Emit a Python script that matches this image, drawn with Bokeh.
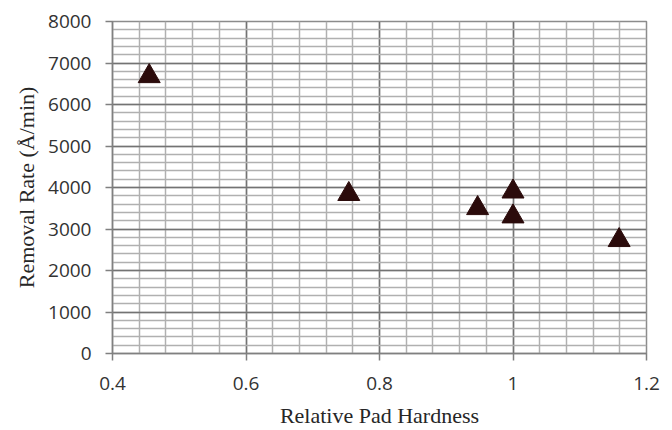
from bokeh.plotting import figure
from bokeh.models import Range1d, FixedTicker, NumeralTickFormatter
from bokeh.embed import file_html
from bokeh.resources import INLINE
import numpy as np

# data
hardness = [0.455, 0.754, 0.947, 1.0, 1.0, 1.159]
removal_rate = [6680, 3840, 3500, 3900, 3300, 2730]

x_ticks = [0.4, 0.6, 0.8, 1.0, 1.2]
y_ticks = [0, 1000, 2000, 3000, 4000, 5000, 6000, 7000, 8000]
x_minor = [round(v, 2) for v in np.arange(0.4, 1.2001, 0.04)]
y_minor = list(range(0, 8001, 200))

x_title = "Relative Pad Hardness"
y_title = "Removal Rate (Å/min)"

p = figure(width=672, height=430, output_backend="svg", toolbar_location=None,
           x_range=Range1d(0.4, 1.2), y_range=Range1d(0, 8000),
           min_border_left=112, min_border_right=26, min_border_top=21,
           min_border_bottom=76)

p.background_fill_color = "white"
p.border_fill_color = "white"
p.outline_line_color = "#8c8c8c"
p.outline_line_width = 1.5

p.xaxis.ticker = FixedTicker(ticks=x_ticks, minor_ticks=x_minor)
p.yaxis.ticker = FixedTicker(ticks=y_ticks, minor_ticks=y_minor)
p.xaxis.formatter = NumeralTickFormatter(format="0.[0]")
p.yaxis.formatter = NumeralTickFormatter(format="0")

for ax in (p.xaxis, p.yaxis):
    ax.axis_line_color = "#808080"
    ax.axis_line_width = 1.5
    ax.major_tick_line_color = "#808080"
    ax.major_tick_line_width = 1.5
    ax.major_tick_out = 7
    ax.major_tick_in = 0
    ax.minor_tick_line_color = None
    ax.major_label_text_font = "Open Sans"
    ax.major_label_text_font_size = "19px"
    ax.major_label_text_color = "#333333"
    ax.axis_label_text_font = "Liberation Serif"
    ax.axis_label_text_font_size = "22px"
    ax.axis_label_text_font_style = "normal"
    ax.axis_label_text_color = "#262626"

p.xaxis.axis_label = x_title
p.yaxis.axis_label = y_title
p.xaxis.major_label_standoff = 16
p.xaxis.axis_label_standoff = 10
p.yaxis.major_label_standoff = 14
p.yaxis.axis_label_standoff = 6

for g in (p.xgrid, p.ygrid):
    g.grid_line_color = "#737373"
    g.grid_line_width = 1.5
    g.minor_grid_line_color = "#b0b0b0"
    g.minor_grid_line_width = 1.5
    g.level = "underlay"

p.scatter(hardness, removal_rate, marker="triangle", size=22,
          fill_color="#2b0b0b", line_color="#2b0b0b")

open("out.html", "w").write(file_html(p, INLINE))
